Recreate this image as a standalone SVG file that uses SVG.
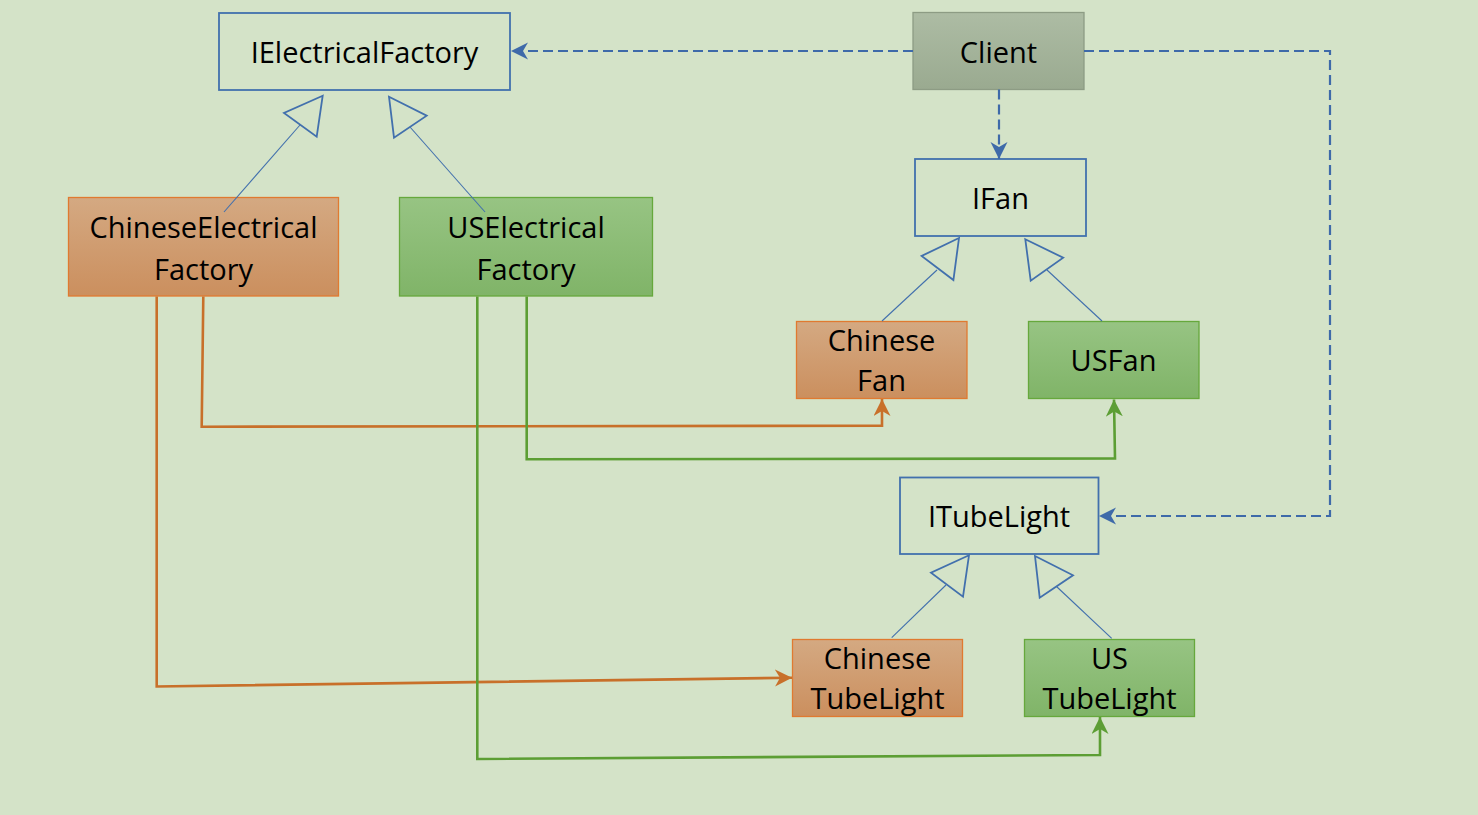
<svg xmlns="http://www.w3.org/2000/svg" width="1478" height="815" viewBox="0 0 1478 815">
<defs>
<style>
.txt{font-family:"Open Sans","Noto Sans","Liberation Sans",sans-serif;font-size:29px;fill:#000;text-anchor:middle}
.iface{fill:none;stroke:#4270ad;stroke-width:1.8}
.orange{fill:url(#gOr);stroke:#e07a30;stroke-width:1.3}
.green{fill:url(#gGr);stroke:#66a83c;stroke-width:1.3}
.client{fill:url(#gCl);stroke:#8d9c84;stroke-width:1.3}
.inh{fill:none;stroke:#4270ad;stroke-width:1.1}
.tri{fill:none;stroke:#4270ad;stroke-width:1.8;stroke-linejoin:miter}
.dash{fill:none;stroke:#3e6aa9;stroke-width:2.2;stroke-dasharray:10 5}
.orl{fill:none;stroke:#c8702a;stroke-width:2.6}
.grl{fill:none;stroke:#5c9e34;stroke-width:2.6}
</style>
<linearGradient id="gOr" x1="0" y1="0" x2="0" y2="1">
<stop offset="0" stop-color="#d4a982"/><stop offset="1" stop-color="#cb8f5e"/>
</linearGradient>
<linearGradient id="gGr" x1="0" y1="0" x2="0" y2="1">
<stop offset="0" stop-color="#97c483"/><stop offset="1" stop-color="#80b468"/>
</linearGradient>
<linearGradient id="gCl" x1="0" y1="0" x2="0" y2="1">
<stop offset="0" stop-color="#adbca4"/><stop offset="1" stop-color="#9aaa90"/>
</linearGradient>
<marker id="aBlue" markerUnits="userSpaceOnUse" markerWidth="18" markerHeight="18" refX="17" refY="8.5" orient="auto">
<path d="M0,0 L17,8.5 L0,17 L5,8.5 z" fill="#3e6aa9"/>
</marker>
<marker id="aOr" markerUnits="userSpaceOnUse" markerWidth="18" markerHeight="18" refX="17" refY="8.5" orient="auto">
<path d="M0,0 L17,8.5 L0,17 L5,8.5 z" fill="#c8702a"/>
</marker>
<marker id="aGr" markerUnits="userSpaceOnUse" markerWidth="18" markerHeight="18" refX="17" refY="8.5" orient="auto">
<path d="M0,0 L17,8.5 L0,17 L5,8.5 z" fill="#5c9e34"/>
</marker>
</defs>
<rect x="0" y="0" width="1478" height="815" fill="#d4e3c8"/>

<g id="IElectricalFactory">
<rect class="iface" x="219" y="13" width="291" height="77"/>
<text class="txt" x="364.5" y="63">IElectricalFactory</text>
</g>
<g id="Client">
<rect class="client" x="913" y="12.5" width="171" height="77"/>
<text class="txt" x="998.5" y="63">Client</text>
</g>
<g id="IFan">
<rect class="iface" x="915" y="159" width="171" height="77"/>
<text class="txt" x="1000.5" y="209">IFan</text>
</g>
<g id="ChineseElectricalFactory">
<rect class="orange" x="68.5" y="197.5" width="270" height="98.5"/>
<text class="txt" x="203.5" y="238">ChineseElectrical</text>
<text class="txt" x="203.5" y="280">Factory</text>
</g>
<g id="USElectricalFactory">
<rect class="green" x="399.5" y="197.5" width="253" height="98.5"/>
<text class="txt" x="526" y="238">USElectrical</text>
<text class="txt" x="526" y="280">Factory</text>
</g>
<g id="ChineseFan">
<rect class="orange" x="796.5" y="321.5" width="170.5" height="77"/>
<text class="txt" x="881.5" y="351">Chinese</text>
<text class="txt" x="881.5" y="391">Fan</text>
</g>
<g id="USFan">
<rect class="green" x="1028.5" y="321.5" width="170.5" height="77"/>
<text class="txt" x="1113.5" y="371">USFan</text>
</g>
<g id="ITubeLight">
<rect class="iface" x="900" y="477.5" width="198.5" height="76.5"/>
<text class="txt" x="999" y="527">ITubeLight</text>
</g>
<g id="ChineseTubeLight">
<rect class="orange" x="792.5" y="639.5" width="170" height="77"/>
<text class="txt" x="877.5" y="669">Chinese</text>
<text class="txt" x="877.5" y="709">TubeLight</text>
</g>
<g id="USTubeLight">
<rect class="green" x="1024.5" y="639.5" width="170" height="77"/>
<text class="txt" x="1109.5" y="669">US</text>
<text class="txt" x="1109.5" y="709">TubeLight</text>
</g>

<g id="connectors">
<path class="dash" d="M913,51 L511,51" marker-end="url(#aBlue)"/>
<path class="dash" d="M999,89.5 L999,159" marker-end="url(#aBlue)"/>
<path class="dash" d="M1084,51 L1330,51 L1330,516 L1099,516" marker-end="url(#aBlue)"/>

<path class="inh" d="M224,212 L300,125"/>
<polygon class="tri" points="322.7,95.7 284,113 316.7,136.7"/>
<path class="inh" d="M485,212 L410,127"/>
<polygon class="tri" points="389,96.7 426.7,115.7 394,137.7"/>

<path class="inh" d="M882,321 L937,270"/>
<polygon class="tri" points="959,238 921.6,256 953.4,280"/>
<path class="inh" d="M1102,321 L1047,270"/>
<polygon class="tri" points="1025.3,239.3 1063.2,257.7 1030.7,280.7"/>

<path class="inh" d="M891.7,637.7 L946,585"/>
<polygon class="tri" points="969,555.3 931,572.7 963,596.7"/>
<path class="inh" d="M1111.7,638.3 L1056.5,586.5"/>
<polygon class="tri" points="1035,556 1073,575.3 1039.7,597.7"/>

<path class="orl" d="M203.3,296.5 L201.7,426.7 L882,425.7 L882,399" marker-end="url(#aOr)"/>
<path class="orl" d="M156.7,296.5 L156.7,686.5 L792,677.7" marker-end="url(#aOr)"/>
<path class="grl" d="M526.7,296.5 L526.7,459.3 L1115,458.5 L1114,399.5" marker-end="url(#aGr)"/>
<path class="grl" d="M477.3,296.5 L477.3,759 L1100,755 L1100,717" marker-end="url(#aGr)"/>
</g>
</svg>
